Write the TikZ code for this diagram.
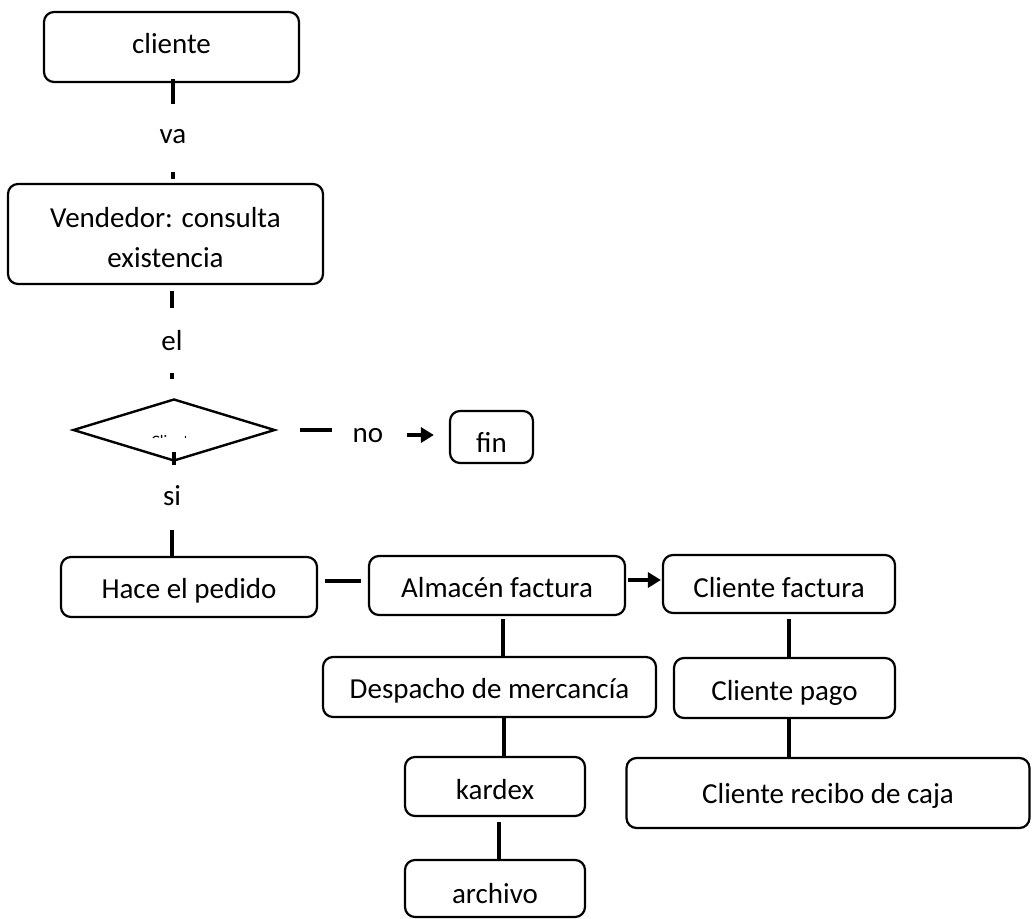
\documentclass[tikz,border=0pt]{standalone}
\usepackage{fontspec}
\setmainfont{Carlito}
\usetikzlibrary{shapes.geometric,arrows.meta,calc}
\tikzset{
  box/.style={draw, line width=2.2pt, rounded corners=10pt, inner sep=0pt,
    text height=24pt, text depth=0pt, font=\fontsize{29}{40}\selectfont},
  lbl/.style={inner sep=0pt, text height=20pt, text depth=6pt, font=\fontsize{29}{40}\selectfont},
  conn/.style={line width=3.6pt},
  arr/.style={line width=3.6pt, -{Triangle[length=13pt,width=15pt]}}
}
\begin{document}
\begin{tikzpicture}[x=1pt,y=-1pt]
\useasboundingbox (0,0) rectangle (1032,918);
\fill[white] (0,0) rectangle (1032,918);
% boxes
\node[box, minimum width=255pt, minimum height=70pt, text height=18pt, text depth=6pt] (cliente) at (171.5,47) {cliente};
\node[box, minimum width=315pt, minimum height=100pt, align=center, text height=66pt, text depth=0pt] (vend) at (165.5,234) {Vendedor: consulta\\existencia};
\node[draw, diamond, line width=2.4pt, minimum width=202pt, minimum height=62pt, inner sep=0pt] (dec) at (174,430) {};
\begin{scope}
\clip (140,425) rectangle (210,437);
\node[inner sep=0pt, anchor=base, font=\fontsize{16}{18}\selectfont] (dectxt) at (174,446) {Cliente};
\end{scope}
\node[box, minimum width=83pt, minimum height=52pt, text height=30pt] (fin) at (491.5,437) {fin};
\node[box, minimum width=256pt, minimum height=60pt, text height=22pt] (hace) at (189,587) {Hace el pedido};
\node[box, minimum width=256pt, minimum height=59pt] (alm) at (497,585.5) {Almacén factura};
\node[box, minimum width=232pt, minimum height=58pt, text height=26pt] (cfac) at (779,584) {Cliente factura};
\node[box, minimum width=333pt, minimum height=60pt, text height=22pt] (desp) at (489.5,687) {Despacho de mercancía};
\node[box, minimum width=221pt, minimum height=60pt] (cpago) at (784.5,688) {Cliente pago};
\node[box, minimum width=180pt, minimum height=59pt, text height=25pt] (kardex) at (495,786.5) {kardex};
\node[box, minimum width=180pt, minimum height=57pt, text height=29pt] (archivo) at (495,888.5) {archivo};
\node[box, minimum width=403pt, minimum height=70pt, text height=20pt] (recibo) at (828,793) {Cliente recibo de caja};
% labels
\node[lbl] (va) at (173,136) {va};
\node[lbl] (el) at (172,343) {el};
\node[lbl] (si) at (172,498) {si};
\node[lbl] (no) at (368,435) {no};
% connectors
\draw[conn, shorten <=-4pt, shorten >=19pt] (cliente.south -| va) -- (va.north);
\draw[conn, shorten <=23pt, shorten >=4pt] (va.south) -- (va.south |- vend.north);
\draw[conn, shorten <=6pt, shorten >=22pt] (vend.south -| el) -- (el.north);
\draw[conn, shorten <=17pt, shorten >=19pt] (el.south) -- (el.south |- dec.north);
\draw[conn, shorten <=-10pt, shorten >=20pt] (dec.south) -- (dec.south |- si.north);
\draw[conn, shorten <=19pt] (si.south) -- (si.south |- hace.north);
\draw[conn, shorten <=24pt, shorten >=21pt] (dec.east) -- (dec.east -| no.west);
\draw[arr, shorten <=24pt, shorten >=15pt] (no.east) -- (no.east -| fin.west);
\draw[conn, shorten <=7pt, shorten >=7pt] ([yshift=4.5pt]alm.west -| hace.east) -- ([yshift=4.5pt]alm.west);
\draw[arr, shorten <=2pt, shorten >=1pt] ([yshift=4pt]cfac.west -| alm.east) -- ([yshift=4pt]cfac.west);
\draw[conn, shorten <=3pt] ([xshift=6pt]alm.south) -- ([xshift=6pt]alm.south |- desp.north);
\draw[conn] ([xshift=9pt]kardex.north |- desp.south) -- ([xshift=9pt]kardex.north);
\draw[conn, shorten <=5pt] ([xshift=4pt]kardex.south) -- ([xshift=4pt]archivo.north);
\draw[conn, shorten <=5pt] ([xshift=10pt]cfac.south) -- ([xshift=10pt]cfac.south |- cpago.north);
\draw[conn] ([xshift=4.5pt]cpago.south) -- ([xshift=4.5pt]cpago.south |- recibo.north);
\end{tikzpicture}
\end{document}
